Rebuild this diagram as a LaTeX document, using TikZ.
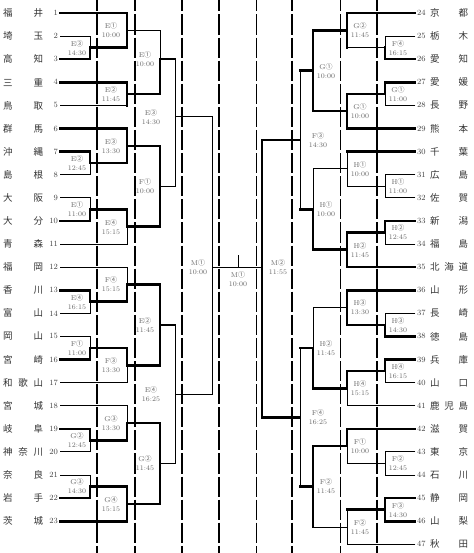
\documentclass[tikz,border=0pt]{standalone}
\usepackage{fontspec}
\newfontfamily\jp{Noto Sans CJK JP}
\newcommand\mt[3]{#1{\jp #2}\\#3}
\tikzset{
  win/.style={line width=2.6pt, line cap=rect},
  lose/.style={line width=.9pt, line cap=rect},
  colthick/.style={line width=2.4pt, dash pattern=on 20.1pt off 3pt, dash phase=8.6pt},
  colthin/.style={line width=.9pt, dash pattern=on 20.1pt off 3pt, dash phase=8.6pt},
  tname/.style={font=\jp\fontsize{9.5}{10}\selectfont, text=black!80, inner sep=0pt},
  tnum/.style={font=\fontsize{8}{9}\selectfont, text=black!75, inner sep=0pt},
  mlabel/.style={font=\fontsize{7}{9}\selectfont, text=black!60, align=center, inner sep=0pt}
}
\begin{document}
\begin{tikzpicture}[x=1pt,y=-23.1pt]
\useasboundingbox (0,-0.5628) rectangle (473,23.3766);

\foreach \x in {97,135,182,219,292,377} \draw[colthick] (\x,-0.5628) -- (\x,23.3766);
\foreach \x in {256,340} \draw[colthin] (\x,-0.5628) -- (\x,23.3766);

\foreach \n/\pref in {1/{福\hfil 井},2/{埼\hfil 玉},3/{高\hfil 知},4/{三\hfil 重},5/{鳥\hfil 取},
  6/{群\hfil 馬},7/{沖\hfil 縄},8/{島\hfil 根},9/{大\hfil 阪},10/{大\hfil 分},11/{青\hfil 森},
  12/{福\hfil 岡},13/{香\hfil 川},14/{富\hfil 山},15/{岡\hfil 山},16/{宮\hfil 崎},
  17/{和\hfil 歌\hfil 山},18/{宮\hfil 城},19/{岐\hfil 阜},20/{神\hfil 奈\hfil 川},
  21/{奈\hfil 良},22/{岩\hfil 手},23/{茨\hfil 城}}{
  \node[tname,anchor=west] (p\n) at (3,\n-1) {\hbox to 40pt{\pref}};
  \node[tnum,anchor=east] (n\n) at (58,\n-1) {\n};
}
\foreach \n/\pref in {24/{京\hfil 都},25/{栃\hfil 木},26/{愛\hfil 知},27/{愛\hfil 媛},28/{長\hfil 野},
  29/{熊\hfil 本},30/{千\hfil 葉},31/{広\hfil 島},32/{佐\hfil 賀},33/{新\hfil 潟},34/{福\hfil 島},
  35/{北\hfil 海\hfil 道},36/{山\hfil 形},37/{長\hfil 崎},38/{徳\hfil 島},39/{兵\hfil 庫},
  40/{山\hfil 口},41/{鹿\hfil 児\hfil 島},42/{滋\hfil 賀},43/{東\hfil 京},44/{石\hfil 川},
  45/{静\hfil 岡},46/{山\hfil 梨},47/{秋\hfil 田}}{
  \node[tnum,anchor=west] (n\n) at (417,\n-24) {\n};
  \node[tname,anchor=west] (p\n) at (430,\n-24) {\hbox to 38pt{\pref}};
}

\draw[lose] (60,1) -- (90,1) -- (90,1.5);
\draw[win] (60,2) -- (90,2) -- (90,1.5) -- (127,1.5);
\draw[win] (60,6) -- (90,6) -- (90,6.5) -- (127,6.5);
\draw[lose] (60,7) -- (90,7) -- (90,6.5);
\draw[lose] (60,8) -- (90,8) -- (90,8.5);
\draw[win] (60,9) -- (90,9) -- (90,8.5) -- (127,8.5);
\draw[win] (60,12) -- (90,12) -- (90,12.5) -- (127,12.5);
\draw[lose] (60,13) -- (90,13) -- (90,12.5);
\draw[lose] (60,14) -- (90,14) -- (90,14.5);
\draw[win] (60,15) -- (90,15) -- (90,14.5) -- (127,14.5);
\draw[win] (60,18) -- (90,18) -- (90,18.5) -- (127,18.5);
\draw[lose] (60,19) -- (90,19) -- (90,18.5);
\draw[lose] (60,20) -- (90,20) -- (90,20.5);
\draw[win] (60,21) -- (90,21) -- (90,20.5) -- (127,20.5);

\draw[win] (60,0) -- (127,0) -- (127,1.5);
\draw[lose] (127,.75) -- (160,.75);
\draw[win] (60,3) -- (127,3) -- (127,4);
\draw[lose] (60,4) -- (127,4);
\draw[win] (127,3.5) -- (160,3.5);
\draw[win] (60,5) -- (127,5) -- (127,6.5);
\draw[win] (127,5.75) -- (160,5.75);
\draw[win] (127,8.5) -- (127,9.25) -- (160,9.25);
\draw[lose] (60,10) -- (127,10) -- (127,9.25);
\draw[lose] (60,11) -- (127,11) -- (127,11.75);
\draw[win] (127,12.5) -- (127,11.75) -- (160,11.75);
\draw[win] (127,14.5) -- (127,15.25) -- (160,15.25);
\draw[lose] (60,16) -- (127,16) -- (127,15.25);
\draw[lose] (60,17) -- (127,17) -- (127,17.75);
\draw[win] (127,18.5) -- (127,17.75) -- (160,17.75);
\draw[win] (127,20.5) -- (127,22) -- (60,22);
\draw[win] (127,21.25) -- (160,21.25);

\draw[lose] (160,.75) -- (160,2);
\draw[win] (160,3.5) -- (160,2) -- (175,2);
\draw[win] (160,5.75) -- (160,9.25);
\draw[lose] (160,7.5) -- (175,7.5);
\draw[win] (160,11.75) -- (160,15.25);
\draw[win] (160,13.5) -- (175,13.5);
\draw[win] (160,17.75) -- (160,21.25);
\draw[lose] (160,19.5) -- (175,19.5);

\draw[lose] (175,2) -- (175,7.5);
\draw[lose] (175,4.5) -- (212,4.5);
\draw[lose] (175,13.5) -- (175,19.5);
\draw[lose] (175,16.5) -- (212,16.5);
\draw[lose] (212,4.5) -- (212,16.5);
\draw[lose] (212,11) -- (262,11);
\draw[lose] (238,10.5) -- (238,11);

\draw[lose] (415,1) -- (385,1) -- (385,1.5) -- (347,1.5);
\draw[win] (415,2) -- (385,2) -- (385,1.5);
\draw[win] (415,3) -- (385,3) -- (385,3.5) -- (347,3.5);
\draw[lose] (415,4) -- (385,4) -- (385,3.5);
\draw[lose] (415,7) -- (385,7) -- (385,8) -- (415,8);
\draw[lose] (385,7.5) -- (347,7.5);
\draw[win] (415,9) -- (385,9) -- (385,9.5) -- (347,9.5);
\draw[lose] (415,10) -- (385,10) -- (385,9.5);
\draw[lose] (415,13) -- (385,13) -- (385,13.5);
\draw[win] (415,14) -- (385,14) -- (385,13.5) -- (347,13.5);
\draw[win] (415,15) -- (385,15) -- (385,15.5) -- (347,15.5);
\draw[lose] (415,16) -- (385,16) -- (385,15.5);
\draw[lose] (415,19) -- (385,19) -- (385,20) -- (415,20);
\draw[lose] (385,19.5) -- (347,19.5);
\draw[win] (415,21) -- (385,21) -- (385,22) -- (415,22);
\draw[win] (385,21.5) -- (347,21.5);

\draw[win] (415,0) -- (347,0) -- (347,1.5);
\draw[win] (347,.75) -- (313,.75);
\draw[win] (347,3.5) -- (347,5) -- (415,5);
\draw[win] (347,4.25) -- (313,4.25);
\draw[win] (415,6) -- (347,6);
\draw[lose] (347,6) -- (347,7.5);
\draw[lose] (347,6.75) -- (313,6.75);
\draw[win] (347,9.5) -- (347,11) -- (415,11);
\draw[win] (347,10.25) -- (313,10.25);
\draw[win] (415,12) -- (347,12) -- (347,13.5);
\draw[lose] (347,12.75) -- (313,12.75);
\draw[win] (347,15.5) -- (347,16.25) -- (313,16.25);
\draw[lose] (347,16.25) -- (347,17) -- (415,17);
\draw[win] (415,18) -- (347,18) -- (347,18.75) -- (313,18.75);
\draw[lose] (347,18.75) -- (347,19.5);
\draw[lose] (347,21.5) -- (347,23) -- (415,23);
\draw[lose] (347,22.25) -- (313,22.25);

\draw[win] (313,.75) -- (313,4.25);
\draw[win] (313,2.5) -- (300,2.5);
\draw[lose] (313,6.75) -- (313,8.5);
\draw[win] (313,10.25) -- (313,8.5) -- (300,8.5);
\draw[lose] (313,12.75) -- (313,14.5);
\draw[win] (313,16.25) -- (313,14.5) -- (300,14.5);
\draw[win] (313,18.75) -- (313,22.25);
\draw[win] (313,20.5) -- (300,20.5);

\draw[lose] (300,2.5) -- (300,8.5);
\draw[win] (300,5.5) -- (262,5.5);
\draw[lose] (300,14.5) -- (300,20.5);
\draw[win] (300,17.5) -- (262,17.5);
\draw[win] (262,5.5) -- (262,17.5);

\foreach \nm/\x/\y/\g/\c/\t in {la1/77/1.5/E/③/14:30, la2/77/6.5/E/②/12:45, la3/77/8.5/E/①/11:00,
  la4/77/12.5/E/④/16:15, la5/77/14.5/F/①/11:00, la6/77/18.5/G/②/12:45, la7/77/20.5/G/③/14:30,
  lb1/111/.75/E/①/10:00, lb2/111/3.5/E/②/11:45, lb3/111/5.75/E/③/13:30, lb4/111/9.25/E/④/15:15,
  lb5/111/11.75/F/④/15:15, lb6/111/15.25/F/③/13:30, lb7/111/17.75/G/③/13:30, lb8/111/21.25/G/④/15:15,
  lc1/145/2/E/①/10:00, lc2/145/7.5/F/①/10:00, lc3/145/13.5/E/②/11:45, lc4/145/19.5/G/②/11:45,
  ld1/151/4.5/E/③/14:30, ld2/151/16.5/E/④/16:25,
  m1/198/11/M/①/10:00, fin/238/11.5/M/①/10:00, m2/278/11/M/②/11:55,
  rd1/318/5.5/F/③/14:30, rd2/318/17.5/F/④/16:25,
  rc1/326/2.5/G/①/10:00, rc2/326/8.5/H/①/10:00, rc3/326/14.5/H/②/11:45, rc4/326/20.5/F/②/11:45,
  rb1/360/.75/G/②/11:45, rb2/360/4.25/G/①/10:00, rb3/360/6.75/H/①/10:00, rb4/360/10.25/H/②/11:45,
  rb5/360/12.75/H/③/13:30, rb6/360/16.25/H/④/15:15, rb7/360/18.75/F/①/10:00, rb8/360/22.25/F/②/11:45,
  ra1/398/1.5/F/④/16:15, ra2/398/3.5/G/①/11:00, ra3/398/7.5/H/①/11:00, ra4/398/9.5/H/②/12:45,
  ra5/398/13.5/H/③/14:30, ra6/398/15.5/H/④/16:15, ra7/398/19.5/F/②/12:45, ra8/398/21.5/F/③/14:30}
  \node[mlabel] (\nm) at (\x,\y) {\mt{\g}{\c}{\t}};
\end{tikzpicture}
\end{document}
